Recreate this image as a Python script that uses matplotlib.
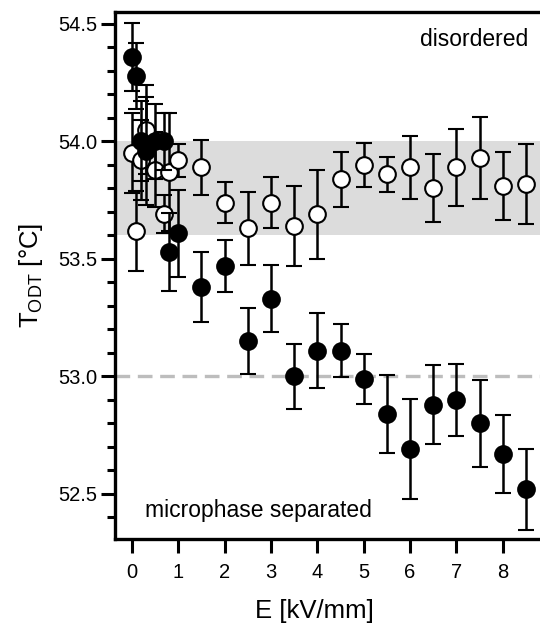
import matplotlib.pyplot as plt
from matplotlib.ticker import MultipleLocator

plt.rcParams['font.family'] = ['Liberation Sans', 'DejaVu Sans']
plt.rcParams['mathtext.fontset'] = 'custom'
plt.rcParams['mathtext.rm'] = 'Liberation Sans'

# field strength E [kV/mm] and order-disorder temperature [°C]
e_filled = [0, 0.1, 0.2, 0.3, 0.5, 0.7, 0.8, 1.0, 1.5, 2.0, 2.5, 3.0, 3.5,
            4.0, 4.5, 5.0, 5.5, 6.0, 6.5, 7.0, 7.5, 8.0, 8.5]
t_filled = [54.36, 54.28, 54.00, 53.96, 54.00, 54.00, 53.53, 53.61, 53.38,
            53.47, 53.15, 53.33, 53.00, 53.11, 53.11, 52.99, 52.84, 52.69,
            52.88, 52.90, 52.80, 52.67, 52.52]
err_filled = [0.145, 0.14, 0.17, 0.23, 0.16, 0.12, 0.165, 0.185, 0.15,
              0.11, 0.14, 0.143, 0.14, 0.158, 0.111, 0.106, 0.165, 0.212,
              0.168, 0.152, 0.186, 0.165, 0.173]

e_open = [0, 0.1, 0.2, 0.3, 0.5, 0.7, 0.8, 1.0, 1.5, 2.0, 2.5, 3.0, 3.5,
          4.0, 4.5, 5.0, 5.5, 6.0, 6.5, 7.0, 7.5, 8.0, 8.5]
t_open = [53.95, 53.62, 53.92, 54.05, 53.88, 53.69, 53.87, 53.92, 53.89,
          53.74, 53.63, 53.74, 53.64, 53.69, 53.84, 53.90, 53.86, 53.89,
          53.80, 53.89, 53.93, 53.81, 53.82]
err_open = [0.17, 0.17, 0.17, 0.19, 0.16, 0.08, 0.25, 0.07, 0.118, 0.088,
            0.156, 0.11, 0.169, 0.19, 0.117, 0.093, 0.075, 0.135, 0.145,
            0.163, 0.176, 0.143, 0.17]

band = (53.6, 54.0)
t_ref = 53.0

fig = plt.figure(figsize=(5.4, 6.23), dpi=100)
ax = fig.add_axes([0.213, 0.1344, 0.787, 0.8468])

ax.axhspan(band[0], band[1], color='#dcdcdc', lw=0, zorder=0)
ax.axhline(t_ref, color='#bdbdbd', lw=2.4, dashes=(4.4, 2.3), zorder=1)

style = dict(fmt='o', ms=12, mec='black', mew=1.5, ecolor='black',
             elinewidth=1.8, capsize=5.5, capthick=1.8)
ax.errorbar(e_open, t_open, yerr=err_open, mfc='white', zorder=3, **style)
ax.errorbar(e_filled, t_filled, yerr=err_filled, mfc='black', zorder=4, **style)

ax.text(8.55, 54.405, 'disordered', ha='right', va='baseline', fontsize=16.5)
ax.text(0.29, 52.40, 'microphase separated', ha='left', va='baseline',
        fontsize=16.5)

ax.set_xlim(-0.36, 8.80)
ax.set_ylim(52.307, 54.552)
ax.xaxis.set_major_locator(MultipleLocator(1))
ax.yaxis.set_major_locator(MultipleLocator(0.5))
ax.yaxis.set_minor_locator(MultipleLocator(0.1))
ax.yaxis.set_major_formatter(plt.FormatStrFormatter('%.1f'))

ax.tick_params(axis='both', which='major', direction='out', length=10,
               width=2.2, labelsize=14.5)
ax.tick_params(axis='y', which='minor', direction='out', length=5.5, width=2.2)
ax.tick_params(axis='x', pad=7)
ax.tick_params(axis='y', pad=3)

for side in ['left', 'bottom', 'top']:
    ax.spines[side].set_linewidth(2.4)
ax.spines['right'].set_visible(False)

ax.set_xlabel('E [kV/mm]', fontsize=18.5)
ax.xaxis.set_label_coords(0.47, -0.113)
ax.set_ylabel(r'T$_{\mathrm{ODT}}$ [°C]', fontsize=18.5)
ax.yaxis.set_label_coords(-0.165, 0.5)

fig.savefig('out.png', dpi=100)
